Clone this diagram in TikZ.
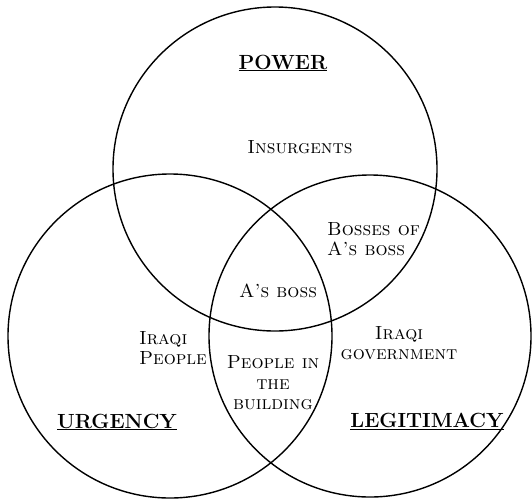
\documentclass[tikz,border=0pt]{standalone}
\begin{document}
\begin{tikzpicture}[x=1pt,y=-1pt,
  ring/.style={draw=black,line width=1.4pt},
  lbl/.style={font=\fontsize{19}{20.5}\selectfont\scshape,inner sep=0pt,align=center},
  lbll/.style={lbl,align=left},
  title/.style={font=\fontsize{20.5}{24}\selectfont\bfseries,inner sep=0pt}]
\useasboundingbox (0,0) rectangle (532,501);
\node[ring,circle,minimum size=324pt,inner sep=0pt] (P) at (275,169) {};
\node[ring,circle,minimum size=324pt,inner sep=0pt] (U) at (170,336) {};
\node[ring,circle,minimum size=322pt,inner sep=0pt] (L) at (370,336) {};
\node[title] (tp) at (283,63) {\underline{POWER}};
\node[title] (tu) at (117,422) {\underline{URGENCY}};
\node[title] (tl) at (427,421) {\underline{LEGITIMACY}};
\node[lbl] (ins) at (300,147) {Insurgents};
\node[lbll,anchor=west] (bos) at (327,239) {Bosses of\\A's boss};
\node[lbl] (ab) at (278,291) {A's boss};
\node[lbll,anchor=east] (ip) at (207,348) {Iraqi\\People};
\node[lbl] (ig) at (399,343) {Iraqi\\government};
\node[lbl] (pb) at (273,383) {People in\\the\\building};
\end{tikzpicture}
\end{document}
